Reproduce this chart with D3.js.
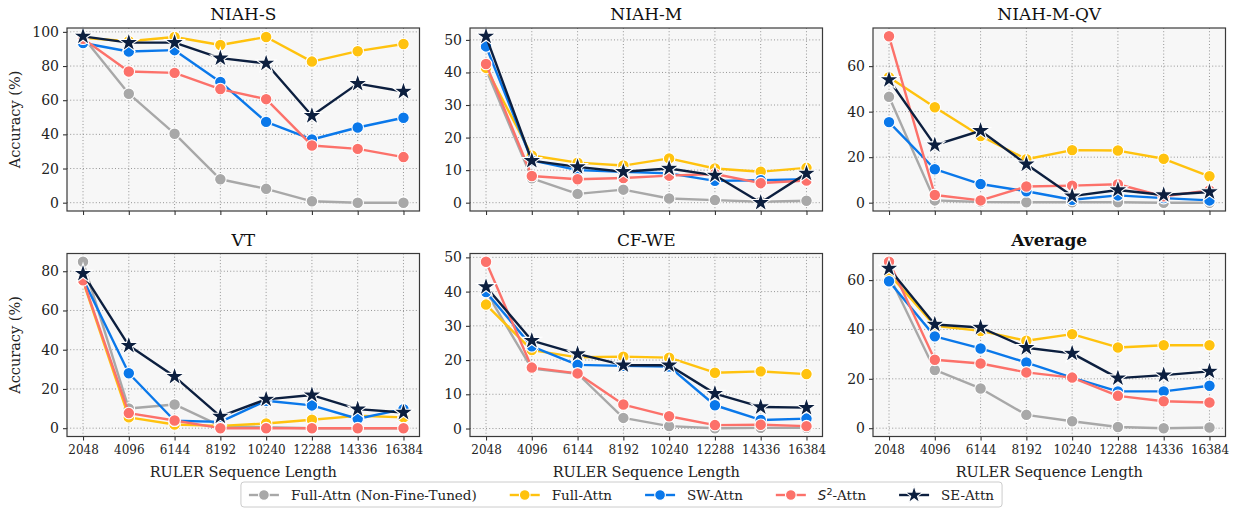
<!DOCTYPE html>
<html><head><meta charset="utf-8">
<script src="https://cdn.jsdelivr.net/npm/d3@7"></script>
<style>body{margin:0;background:#fff} svg{display:block}</style>
</head><body><svg id="c" width="1239" height="508"></svg>
<script>
// ---------- DATA ----------
const lengths = [2048, 4096, 6144, 8192, 10240, 12288, 14336, 16384];
const taskNames = ["NIAH-S", "NIAH-M", "NIAH-M-QV", "VT", "CF-WE", "Average"];
const seriesNames = ["Full-Attn (Non-Fine-Tuned)", "Full-Attn", "SW-Attn", "S2-Attn", "SE-Attn"];
const seriesColors = ["#a8a8a8", "#ffc20e", "#0a78ea", "#fc716a", "#0c1f3f"];

const niahS_nft  = [97, 63.8, 40.4, 13.7, 8.1, 0.8, 0, 0];
const niahS_full = [96.5, 94.5, 97, 92.3, 97, 82.6, 88.7, 92.9];
const niahS_sw   = [93.5, 88.5, 89.3, 70.7, 47.3, 37, 44, 49.7];
const niahS_s2   = [96, 76.8, 76, 66.5, 60.6, 33.5, 31.5, 26.7];
const niahS_se   = [97.4, 93.7, 93.7, 84.6, 81.6, 50.9, 69.7, 65.1];

const niahM_nft  = [41, 7.5, 2.7, 4.0, 1.3, 0.8, 0.3, 0.6];
const niahM_full = [41.4, 14.5, 12.3, 11.4, 13.6, 10.5, 9.5, 10.7];
const niahM_sw   = [48, 13, 10, 9.5, 9, 6.7, 6.9, 7.2];
const niahM_s2   = [42.6, 8.2, 7.2, 7.6, 8.3, 8.8, 6, 6.8];
const niahM_se   = [51.1, 12.9, 11, 9.5, 10.5, 8.4, 0, 9];

const niahMQV_nft  = [46.5, 1, 0.3, 0.2, 0.2, 0.2, 0, 0];
const niahMQV_full = [55.1, 41.9, 29.3, 19.1, 23.1, 22.9, 19.3, 11.6];
const niahMQV_sw   = [35.4, 14.7, 8.2, 5, 1.3, 3.2, 2, 1];
const niahMQV_s2   = [73.1, 3.4, 1, 7.1, 7.5, 8.1, 2.8, 5.4];
const niahMQV_se   = [54, 25.3, 31.6, 16.9, 2.9, 5.6, 3.4, 4.7];

const vt_nft  = [84.8, 10, 12.1, 1.2, 0.5, 0, 0, 0];
const vt_full = [75, 5.5, 1.9, 1.2, 2.4, 4.3, 6.3, 5.5];
const vt_sw   = [76, 28, 3.8, 3.2, 14, 11.6, 4.8, 9.7];
const vt_s2   = [75.4, 7.7, 3.9, 0, 0, 0, 0, 0];
const vt_se   = [78.8, 42.1, 26.3, 6, 14.7, 16.9, 9.7, 8];

const cfwe_nft  = [40, 17.5, 16, 3.1, 0.7, 0.1, 0.2, 0.2];
const cfwe_full = [36.2, 22.9, 20.8, 21, 20.7, 16.3, 16.7, 15.9];
const cfwe_sw   = [39.9, 24, 18.6, 18.3, 18.1, 6.8, 2.5, 2.9];
const cfwe_s2   = [48.7, 17.8, 16.1, 7, 3.6, 1, 1.1, 0.7];
const cfwe_se   = [41.4, 25.7, 21.8, 18.5, 18.5, 10.2, 6.3, 6.1];

const avg_nft  = [62, 23.6, 16.1, 5.4, 2.8, 0.5, 0, 0.3];
const avg_full = [62.5, 41.5, 39.4, 35.4, 38.1, 32.7, 33.6, 33.6];
const avg_sw   = [59.5, 37.2, 32.3, 26.6, 20.5, 14.9, 14.9, 17.2];
const avg_s2   = [67.4, 27.7, 26.2, 22.6, 20.5, 13.1, 10.9, 10.4];
const avg_se   = [64.7, 42, 40.8, 32.6, 30.3, 20.3, 21.5, 23];

const yTicksNiahS = [0, 20, 40, 60, 80, 100];
const yTicksNiahM = [0, 10, 20, 30, 40, 50];
const yTicksNiahMQV = [0, 20, 40, 60];
const yTicksVT = [0, 20, 40, 60, 80];
const yTicksCFWE = [0, 10, 20, 30, 40, 50];
const yTicksAvg = [0, 20, 40, 60];

const panels = [
  {title: taskNames[0], series: [niahS_nft, niahS_full, niahS_sw, niahS_s2, niahS_se], ticks: yTicksNiahS},
  {title: taskNames[1], series: [niahM_nft, niahM_full, niahM_sw, niahM_s2, niahM_se], ticks: yTicksNiahM},
  {title: taskNames[2], series: [niahMQV_nft, niahMQV_full, niahMQV_sw, niahMQV_s2, niahMQV_se], ticks: yTicksNiahMQV},
  {title: taskNames[3], series: [vt_nft, vt_full, vt_sw, vt_s2, vt_se], ticks: yTicksVT},
  {title: taskNames[4], series: [cfwe_nft, cfwe_full, cfwe_sw, cfwe_s2, cfwe_se], ticks: yTicksCFWE},
  {title: taskNames[5], series: [avg_nft, avg_full, avg_sw, avg_s2, avg_se], ticks: yTicksAvg, bold: true}
];

// ---------- LAYOUT ----------
const FONT = "'DejaVu Serif', serif";
const colLeft = [67, 470, 873];
const rowTop = [28, 253.5];
const W = 352.5, H = 183;
const svg = d3.select("#c");

const star = d3.symbol().type(d3.symbolStar).size(120);
const circ = d3.symbol().type(d3.symbolCircle).size(105);

panels.forEach((p, i) => {
  const row = Math.floor(i / 3), col = i % 3;
  const g = svg.append("g").attr("transform", `translate(${colLeft[col]},${rowTop[row]})`);
  const x = d3.scalePoint().domain(lengths).range([0, W]).padding(0.35);
  // matplotlib-like margins
  const all = p.series.flat();
  const [mn, mx] = d3.extent(all);
  const pad = (mx - mn) * 0.05;
  const y = d3.scaleLinear().domain([mn - pad, mx + pad]).range([H, 0]);

  g.append("rect").attr("width", W).attr("height", H).attr("fill", "#f7f7f7");

  // grid
  g.append("g").selectAll("line").data(lengths).join("line")
    .attr("x1", d => x(d)).attr("x2", d => x(d)).attr("y1", 0).attr("y2", H)
    .attr("stroke", "#8a8a8a").attr("stroke-width", 0.9).attr("stroke-dasharray", "1,2.2");
  g.append("g").selectAll("line").data(p.ticks).join("line")
    .attr("x1", 0).attr("x2", W).attr("y1", d => y(d)).attr("y2", d => y(d))
    .attr("stroke", "#8a8a8a").attr("stroke-width", 0.9).attr("stroke-dasharray", "1,2.2");

  // axes
  const xa = g.append("g").attr("transform", `translate(0,${H})`)
    .call(d3.axisBottom(x).tickSize(4).tickPadding(5).tickFormat(row === 1 ? d3.format("d") : () => ""));
  const ya = g.append("g").call(d3.axisLeft(y).tickValues(p.ticks).tickSize(4).tickPadding(4));
  [xa, ya].forEach(a => {
    a.attr("font-family", FONT);
    a.select(".domain").remove();
    a.selectAll(".tick line").attr("stroke", "#333").attr("stroke-width", 1.1);
    a.selectAll("text").attr("fill", "#222").style("font-family", FONT);
  });
  xa.selectAll("text").style("font-size", "12px");
  ya.selectAll("text").style("font-size", "14px");

  // lines & markers
  p.series.forEach((vals, s) => {
    const pts = vals.map((v, k) => [x(lengths[k]), y(v)]);
    g.append("path").attr("d", d3.line()(pts)).attr("fill", "none")
      .attr("stroke", seriesColors[s]).attr("stroke-width", 2.4).attr("stroke-linejoin", "round");
    g.append("g").selectAll("path").data(pts).join("path")
      .attr("transform", d => `translate(${d[0]},${d[1]})`)
      .attr("d", s === 4 ? star() : circ())
      .attr("fill", seriesColors[s]).attr("stroke", "#fff").attr("stroke-width", 1.1);
  });

  // frame
  g.append("rect").attr("width", W).attr("height", H).attr("fill", "none")
    .attr("stroke", "#3a3a3a").attr("stroke-width", 1.2);

  // title
  g.append("text").attr("x", W / 2).attr("y", -8).attr("text-anchor", "middle")
    .style("font-family", FONT).style("font-size", "17px").attr("fill", "#111")
    .style("font-weight", p.bold ? "bold" : "normal").text(p.title);

  if (col === 0) {
    g.append("text").attr("transform", `translate(-47,${H / 2}) rotate(-90)`)
      .attr("text-anchor", "middle").style("font-family", FONT).style("font-size", "14.5px")
      .attr("fill", "#222").text("Accuracy (%)");
  }
  if (row === 1) {
    g.append("text").attr("x", W / 2).attr("y", H + 40).attr("text-anchor", "middle")
      .style("font-family", FONT).style("font-size", "14.5px").attr("fill", "#222")
      .text("RULER Sequence Length");
  }
});

// ---------- LEGEND ----------
const lg = svg.append("g");
const box = lg.append("rect").attr("y", 482).attr("height", 25).attr("rx", 3)
  .attr("fill", "#fff").attr("stroke", "#cccccc").attr("stroke-width", 1);
let cx = 0;
const items = lg.append("g");
const ly = 495;
const gap = 33;
seriesNames.forEach((name, s) => {
  const it = items.append("g").attr("transform", `translate(${cx},0)`);
  it.append("line").attr("x1", 0).attr("x2", 30).attr("y1", ly).attr("y2", ly)
    .attr("stroke", seriesColors[s]).attr("stroke-width", 2.4);
  it.append("path").attr("transform", `translate(15,${ly})`)
    .attr("d", s === 4 ? d3.symbol().type(d3.symbolStar).size(100)() : d3.symbol().type(d3.symbolCircle).size(90)())
    .attr("fill", seriesColors[s]).attr("stroke", "#fff").attr("stroke-width", 1.1);
  const t = it.append("text").attr("x", 42).attr("y", ly + 5)
    .style("font-family", FONT).style("font-size", "13.5px").attr("fill", "#222");
  if (s === 3) {
    t.append("tspan").style("font-family", "'DejaVu Sans', sans-serif").style("font-style", "italic").text("S");
    t.append("tspan").attr("dy", -5).style("font-size", "9.5px").style("font-family", "'DejaVu Sans', sans-serif").text("2");
    t.append("tspan").attr("dy", 5).text("-Attn");
  } else {
    t.text(name);
  }
  cx += 42 + t.node().getComputedTextLength() + gap;
});
const totalW = cx - gap;
const startX = 621.5 - totalW / 2;
items.attr("transform", `translate(${startX},0)`);
box.attr("x", startX - 8).attr("width", totalW + 16);
</script></body></html>
